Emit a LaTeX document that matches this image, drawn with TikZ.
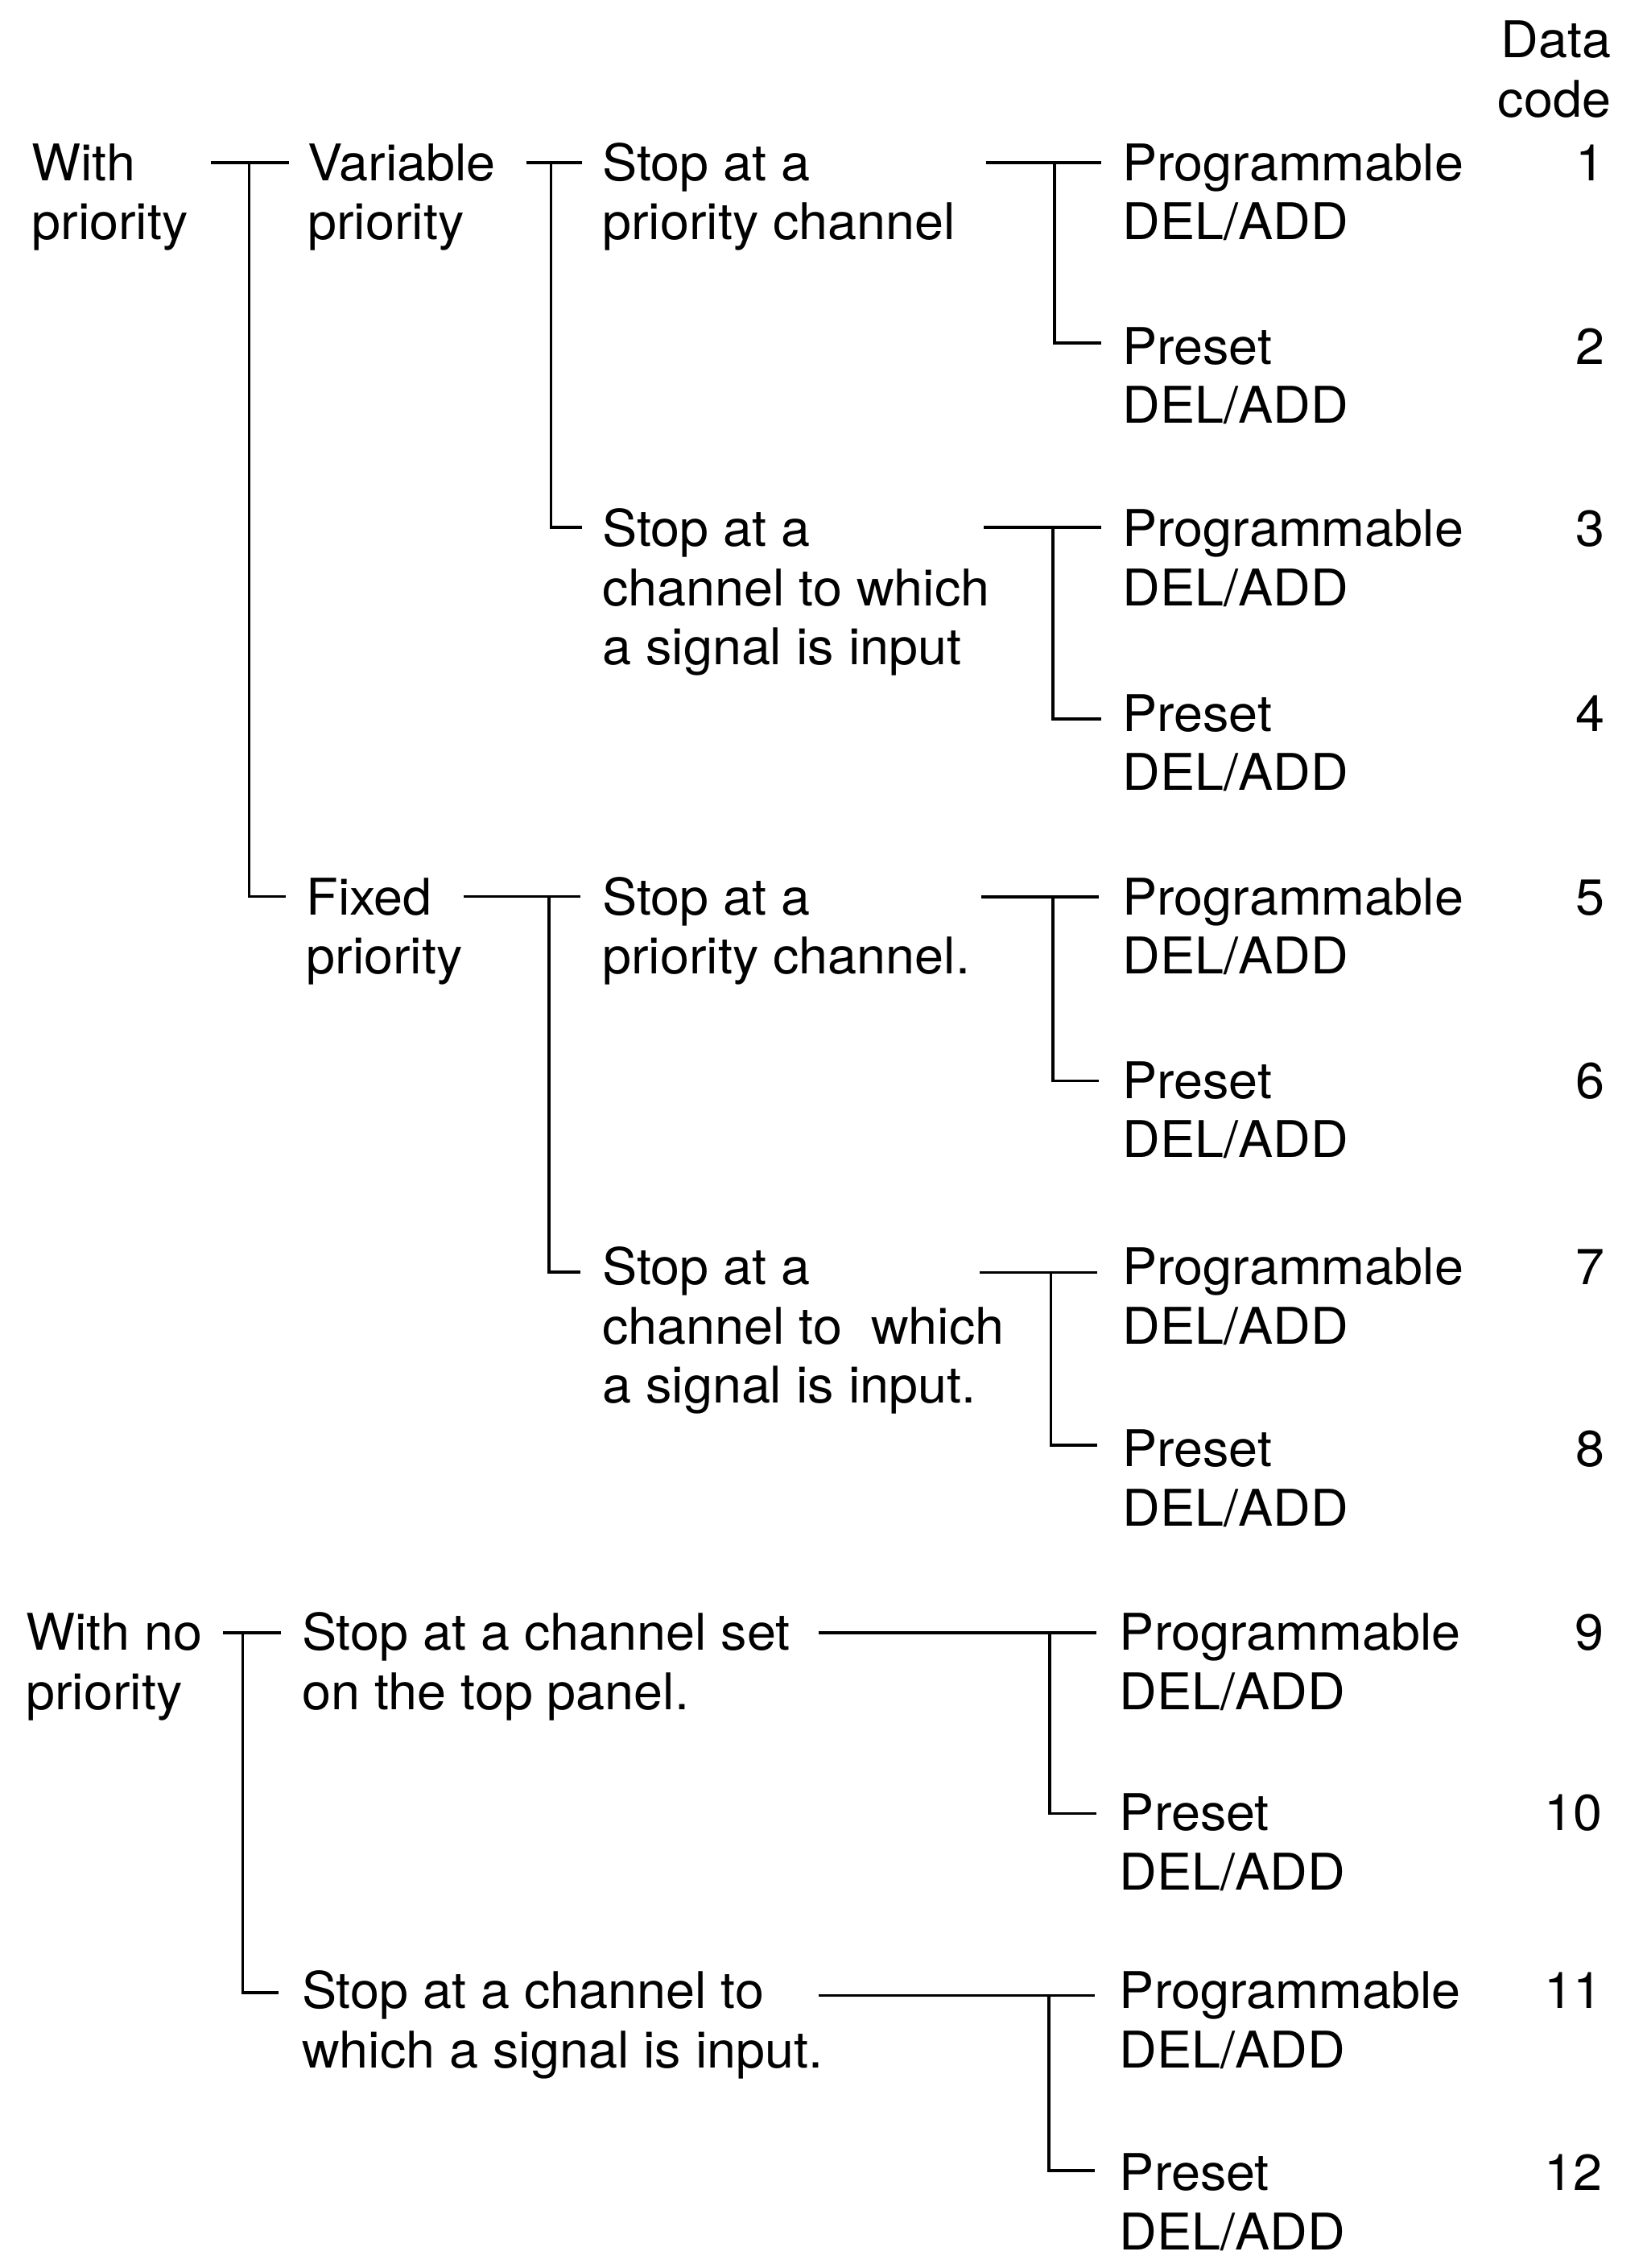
\documentclass[tikz,border=0pt]{standalone}
\usepackage{fontspec}
\setmainfont[FakeStretch=1.03]{TeX Gyre Heros}
\begin{document}
\begin{tikzpicture}[x=1pt,y=-1pt,
  txt/.style={anchor=base west, inner sep=0pt, outer sep=0pt, align=left,
    font=\fontsize{35}{41}\selectfont},
  num/.style={anchor=base east, inner sep=0pt, outer sep=0pt, align=right,
    font=\fontsize{35}{41}\selectfont},
  two/.style={yshift=-41pt},
  three/.style={yshift=-82pt},
  conn/.style={draw=black, line width=2pt}]
\useasboundingbox[fill=white] (0,0) rectangle (1140,1569.6);

% header
\node[num,two] (hdr) at (1115,40) {Data\\code};

% level 1
\node[txt,two] (w1) at (22,125) {With\\priority};
\node[txt,two] (w2) at (18,1142) {With no\\priority};

% level 2
\node[txt,two] (var) at (213,125) {Variable\\priority};
\node[txt,two] (fix) at (212,633) {Fixed\\priority};
\node[txt,two] (s5) at (209,1142) {Stop at a channel set\\on the top panel.};
\node[txt,two] (s6) at (209,1390) {Stop at a channel to\\which a signal is input.};

% level 3
\node[txt,two] (s1) at (417,125) {Stop at a\\priority channel};
\node[txt,three] (s2) at (417,378) {Stop at a\\channel to which\\a signal is input};
\node[txt,two] (s3) at (417,633) {Stop at a\\priority channel.};
\node[txt,three] (s4) at (417,889) {Stop at a\\channel to\ \ which\\a signal is input.};

% leaves
\node[txt,two] (p1) at (777,125) {Programmable\\DEL/ADD};
\node[txt,two] (p2) at (777,252) {Preset\\DEL/ADD};
\node[txt,two] (p3) at (777,378) {Programmable\\DEL/ADD};
\node[txt,two] (p4) at (777,506) {Preset\\DEL/ADD};
\node[txt,two] (p5) at (777,633) {Programmable\\DEL/ADD};
\node[txt,two] (p6) at (777,760) {Preset\\DEL/ADD};
\node[txt,two] (p7) at (777,889) {Programmable\\DEL/ADD};
\node[txt,two] (p8) at (777,1015) {Preset\\DEL/ADD};
\node[txt,two] (p9) at (775,1142) {Programmable\\DEL/ADD};
\node[txt,two] (p10) at (775,1267) {Preset\\DEL/ADD};
\node[txt,two] (p11) at (775,1390) {Programmable\\DEL/ADD};
\node[txt,two] (p12) at (775,1516) {Preset\\DEL/ADD};

% data codes
\node[num] (n1) at (1111,125) {1};
\node[num] (n2) at (1111,252) {2};
\node[num] (n3) at (1111,378) {3};
\node[num] (n4) at (1111,506) {4};
\node[num] (n5) at (1111,633) {5};
\node[num] (n6) at (1111,760) {6};
\node[num] (n7) at (1111,889) {7};
\node[num] (n8) at (1111,1015) {8};
\node[num] (n9) at (1110,1142) {9};
\node[num] (n10) at (1109,1267) {10};
\node[num] (n11) at (1109,1390) {11};
\node[num] (n12) at (1109,1516) {12};

% junction coordinates
\coordinate (a1) at (146,112.5);   \coordinate (a2) at (172.5,112.5);
\coordinate (a3) at (200,112.5);   \coordinate (a4) at (198,620.5);
\coordinate (b1) at (364.5,112.5); \coordinate (b2) at (381.5,112.5);
\coordinate (b3) at (403,112.5);   \coordinate (b4) at (403,365);
\coordinate (c1) at (321,620.5);   \coordinate (c2) at (380,620.5);
\coordinate (c3) at (401.5,620.5); \coordinate (c4) at (401.5,880.5);
\coordinate (d1) at (154.5,1130);  \coordinate (d2) at (168,1130);
\coordinate (d3) at (194.5,1130);  \coordinate (d4) at (192.6,1379);
\coordinate (r1a) at (682.5,112.5); \coordinate (r1b) at (730,112.5);
\coordinate (r1c) at (762.5,112.5); \coordinate (r1d) at (762.5,237.5);
\coordinate (r3a) at (681,365);     \coordinate (r3b) at (728.7,365);
\coordinate (r3c) at (762.5,365);   \coordinate (r3d) at (762.5,497.4);
\coordinate (r5a) at (679,620.7);   \coordinate (r5b) at (728.7,620.7);
\coordinate (r5c) at (760.7,620.7); \coordinate (r5d) at (760.7,748);
\coordinate (r7a) at (678,880.7);   \coordinate (r7b) at (727.3,880.7);
\coordinate (r7c) at (759.6,880.7); \coordinate (r7d) at (759.6,1000);
\coordinate (r9a) at (566.4,1130);  \coordinate (r9b) at (726.5,1130);
\coordinate (r9c) at (758.8,1130);  \coordinate (r9d) at (758.8,1255);
\coordinate (r11a) at (566.4,1381); \coordinate (r11b) at (726,1381);
\coordinate (r11c) at (758,1381);   \coordinate (r11d) at (758,1502);

% connectors
\draw[conn] (a1) -- (a3) (a2) |- (a4);
\draw[conn] (b1) -- (b3) (b2) |- (b4);
\draw[conn] (c1) -- (c3) (c2) |- (c4);
\draw[conn] (d1) -- (d3) (d2) |- (d4);
\draw[conn] (r1a) -- (r1c) (r1b) |- (r1d);
\draw[conn] (r3a) -- (r3c) (r3b) |- (r3d);
\draw[conn] (r5a) -- (r5c) (r5b) |- (r5d);
\draw[conn] (r7a) -- (r7c) (r7b) |- (r7d);
\draw[conn] (r9a) -- (r9c) (r9b) |- (r9d);
\draw[conn] (r11a) -- (r11c) (r11b) |- (r11d);
\end{tikzpicture}
\end{document}
